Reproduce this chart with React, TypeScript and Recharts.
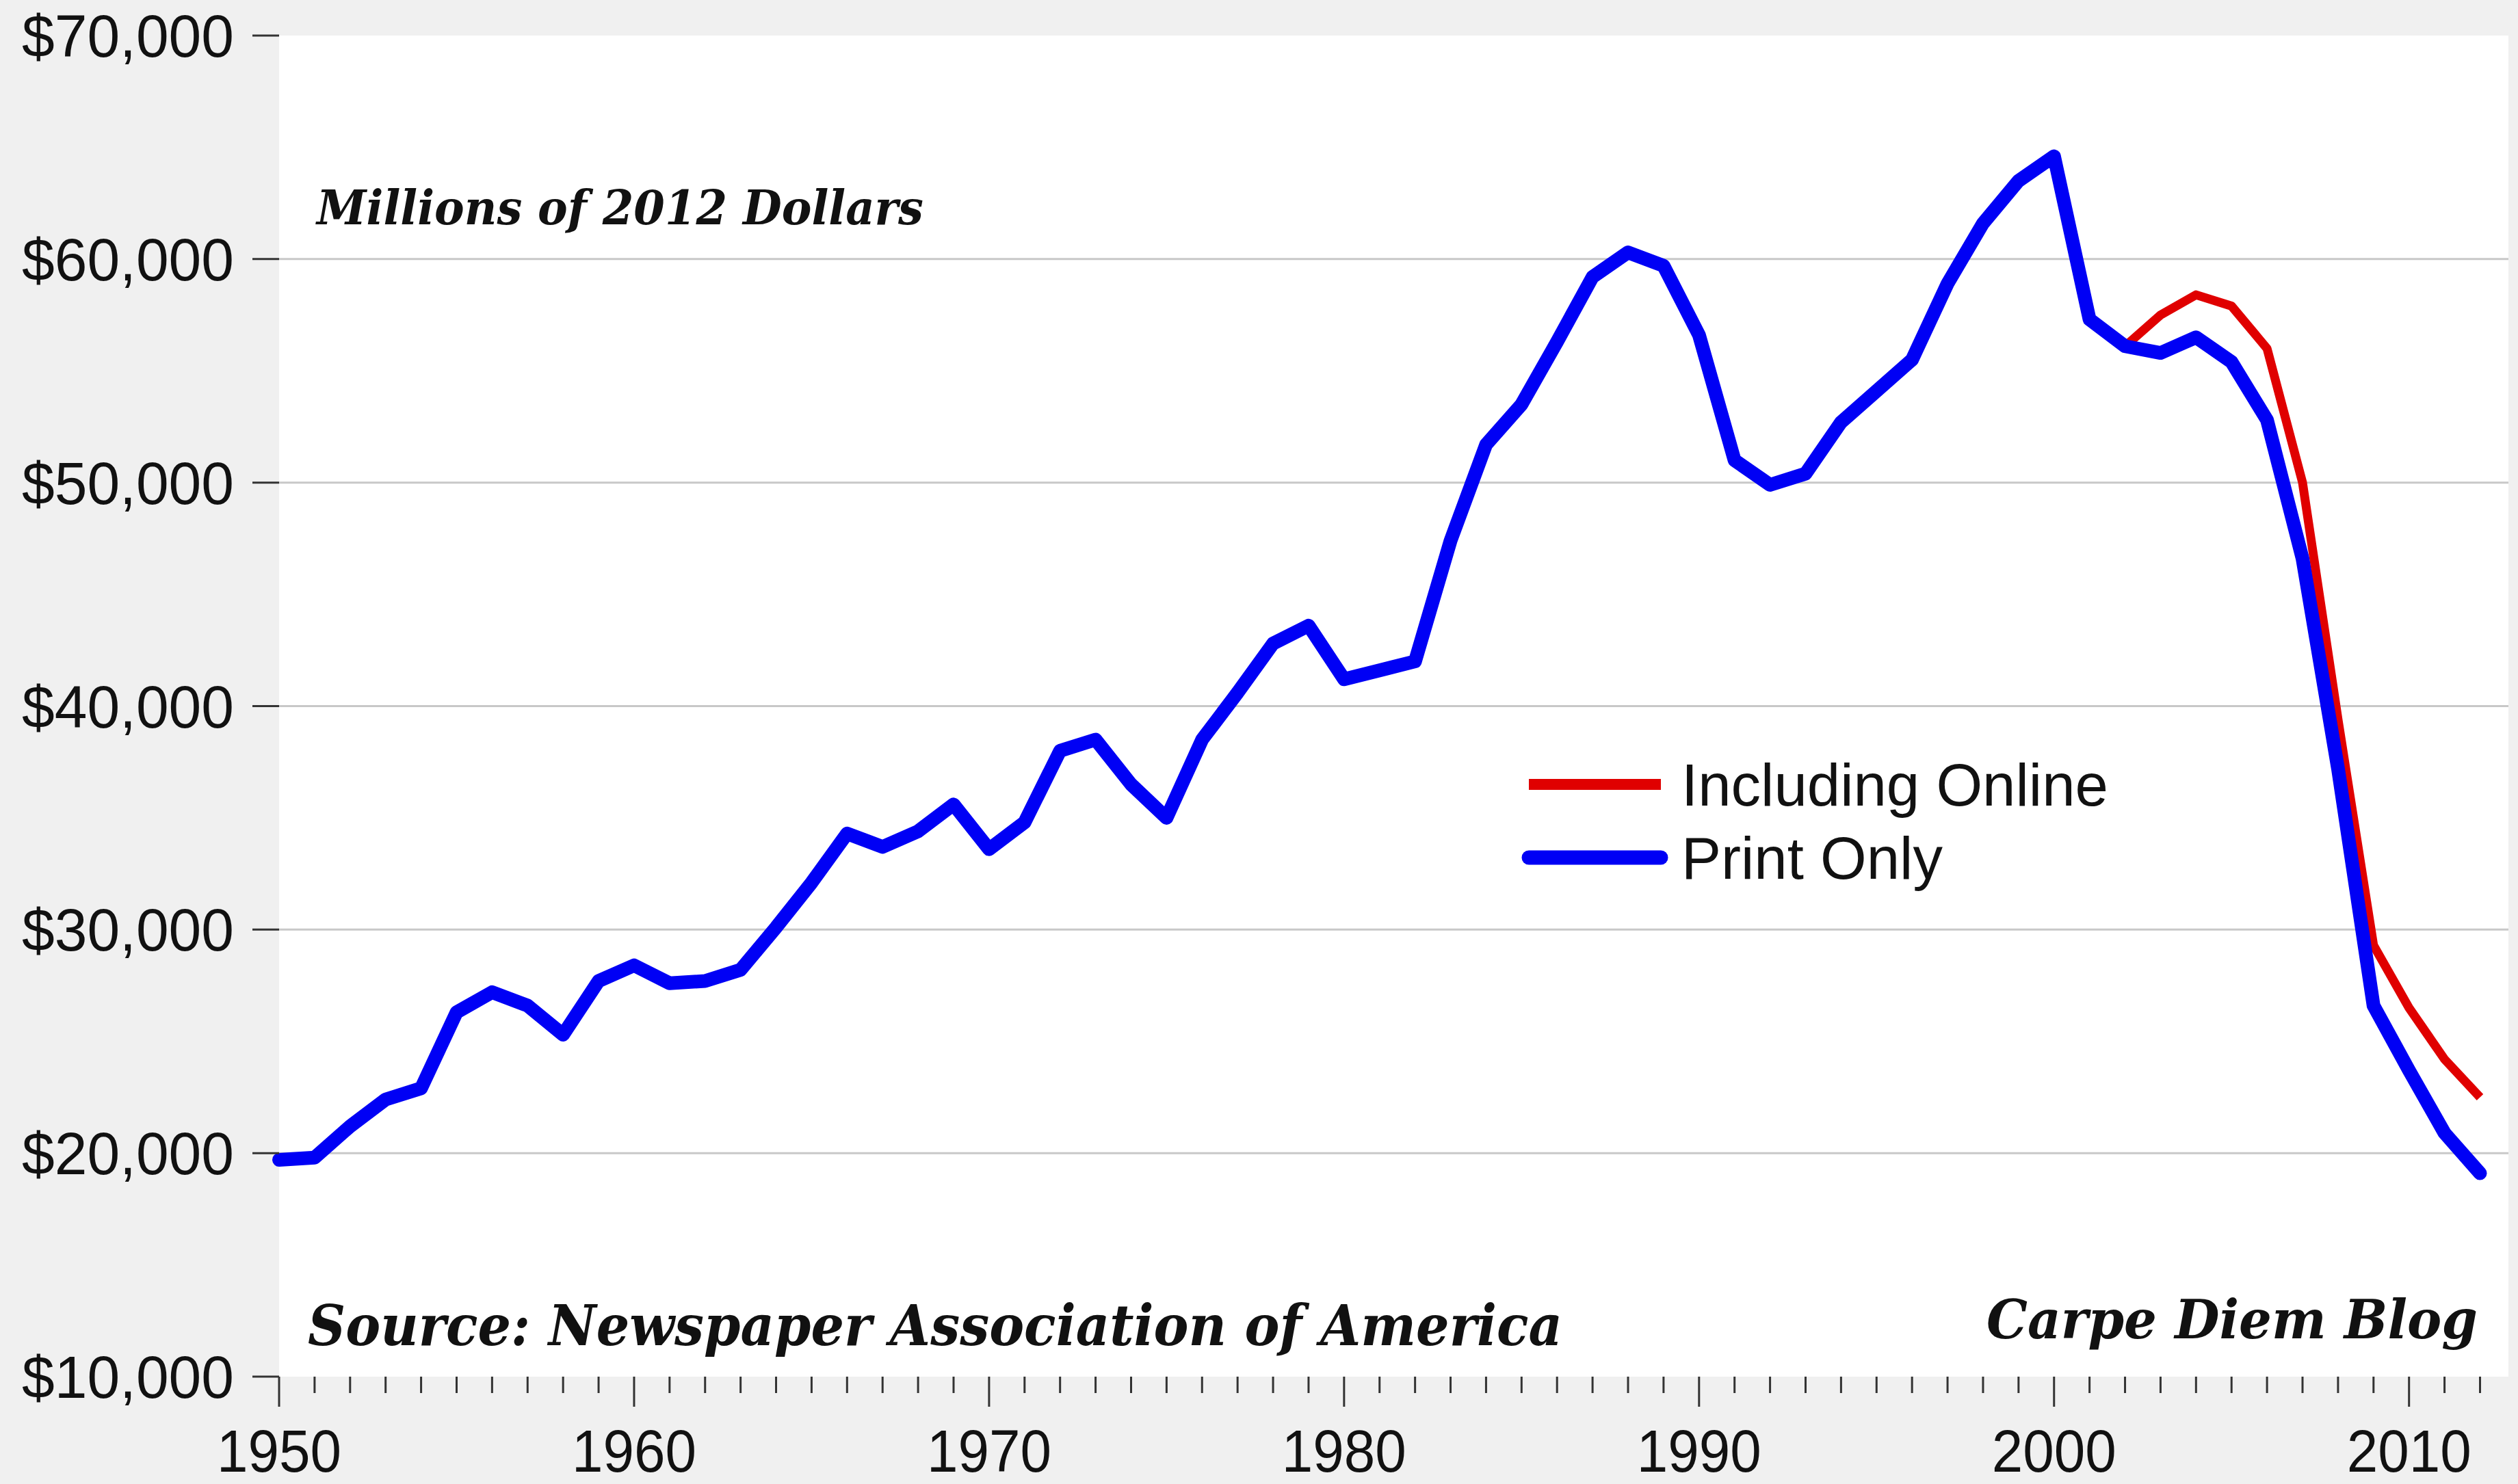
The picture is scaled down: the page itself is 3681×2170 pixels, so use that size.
import React from "react";
import { LineChart, Line, XAxis, YAxis, CartesianGrid, Legend } from "recharts";

const years = [
  1950, 1951, 1952, 1953, 1954, 1955, 1956, 1957, 1958, 1959,
  1960, 1961, 1962, 1963, 1964, 1965, 1966, 1967, 1968, 1969,
  1970, 1971, 1972, 1973, 1974, 1975, 1976, 1977, 1978, 1979,
  1980, 1981, 1982, 1983, 1984, 1985, 1986, 1987, 1988, 1989,
  1990, 1991, 1992, 1993, 1994, 1995, 1996, 1997, 1998, 1999,
  2000, 2001, 2002, 2003, 2004, 2005, 2006, 2007, 2008, 2009,
  2010, 2011, 2012,
];

const printOnly = [
  19700, 19800, 21200, 22400, 22900, 26300, 27200, 26600, 25300, 27700,
  28400, 27600, 27700, 28200, 30100, 32100, 34300, 33700, 34400, 35600,
  33600, 34800, 38000, 38500, 36500, 35000, 38500, 40600, 42800, 43600,
  41200, 41600, 42000, 47400, 51700, 53500, 56300, 59200, 60300, 59700,
  56600, 51000, 49900, 50400, 52700, 54100, 55500, 58900, 61600, 63500,
  64600, 57300, 56100, 55800, 56500, 55400, 52800, 46600, 37200, 26600,
  23700, 20900, 19100,
];

const onlineYears = [2002, 2003, 2004, 2005, 2006, 2007, 2008, 2009, 2010, 2011, 2012];
const includingOnline = [56100, 57500, 58400, 57900, 56000, 50000, 39400, 29300, 26500, 24200, 22500];

const yTicks = [10000, 20000, 30000, 40000, 50000, 60000, 70000];
const gridValues = [20000, 30000, 40000, 50000, 60000];
const xTicks = years;

const seriesNames = { online: "Including Online", print: "Print Only" };
const unitNote = "Millions of 2012 Dollars";
const sourceNote = "Source: Newspaper Association of America";
const blogNote = "Carpe Diem Blog";

const data = years.map((yr, i) => {
  const j = onlineYears.indexOf(yr);
  return { year: yr, print: printOnly[i], online: j >= 0 ? includingOnline[j] : null };
});

const SANS = "'Liberation Sans', Arial, Helvetica, sans-serif";
const SERIF = "'DejaVu Serif', Georgia, serif";

const XTick = (props: any) => {
  const { x, y, payload } = props;
  const v = payload.value;
  const major = v % 10 === 0;
  return (
    <g>
      <line x1={x} x2={x} y1={y} y2={y + (major ? 44 : 24)} stroke="#333" strokeWidth={3} />
      {major && (
        <text
          x={x}
          y={y + 139}
          textAnchor="middle"
          fontFamily={SANS}
          fontSize={88}
          textLength={182}
          lengthAdjust="spacingAndGlyphs"
          fill="#111"
        >
          {v}
        </text>
      )}
    </g>
  );
};

const YTick = (props: any) => {
  const { x, y, payload } = props;
  const label = "$" + Number(payload.value).toLocaleString("en-US");
  return (
    <text
      x={x - 27}
      y={y + 31}
      textAnchor="end"
      fontFamily={SANS}
      fontSize={88}
      textLength={310}
      lengthAdjust="spacingAndGlyphs"
      fill="#111"
    >
      {label}
    </text>
  );
};

const LegendContent = (props: any) => {
  const { payload } = props;
  return (
    <svg width={900} height={240} style={{ display: "block" }}>
      {(payload || []).map((entry: any, i: number) => {
        const cy = 67 + i * 107;
        return (
          <g key={i}>
            <line
              x1={15}
              x2={208}
              y1={cy}
              y2={cy}
              stroke={entry.color}
              strokeWidth={i === 0 ? 16 : 21}
              strokeLinecap={i === 0 ? "butt" : "round"}
            />
            <text x={238} y={cy + 31} fontFamily={SANS} fontSize={87} fill="#111">
              {entry.value}
            </text>
          </g>
        );
      })}
    </svg>
  );
};

export default function App() {
  return (
    <div
      style={{
        position: "absolute",
        left: 0,
        top: 0,
        width: 3681,
        height: 2170,
        background: "#f0f0f0",
        overflow: "hidden",
      }}
    >
      <LineChart
        width={3681}
        height={2170}
        data={data}
        margin={{ top: 52, right: 14, left: 0, bottom: 0 }}
      >
        <CartesianGrid
          vertical={false}
          horizontalValues={gridValues}
          stroke="#c8c8c8"
          strokeWidth={3}
          fill="#ffffff"
          fillOpacity={1}
        />
        <XAxis
          dataKey="year"
          type="number"
          domain={[1950, 2012.8]}
          ticks={xTicks}
          interval={0}
          axisLine={false}
          tickLine={false}
          tickSize={0}
          tickMargin={0}
          height={157}
          tick={<XTick />}
        />
        <YAxis
          type="number"
          domain={[10000, 70000]}
          ticks={yTicks}
          interval={0}
          width={408}
          axisLine={false}
          tickLine={{ stroke: "#333", strokeWidth: 3 }}
          tickSize={39}
          tickMargin={0}
          tick={<YTick />}
        />
        <Legend
          layout="horizontal"
          verticalAlign="middle"
          align="center"
          content={<LegendContent />}
          wrapperStyle={{ position: "absolute", left: 2220, top: 1080, width: 900, height: 240 }}
        />
        <Line
          type="linear"
          dataKey="online"
          name={seriesNames.online}
          stroke="#e00000"
          strokeWidth={13}
          strokeLinejoin="round"
          dot={false}
          activeDot={false}
          connectNulls={false}
          isAnimationActive={false}
        />
        <Line
          type="linear"
          dataKey="print"
          name={seriesNames.print}
          stroke="#0000f5"
          strokeWidth={20}
          strokeLinejoin="round"
          strokeLinecap="round"
          dot={false}
          activeDot={false}
          isAnimationActive={false}
        />
      </LineChart>
      <svg
        width={3681}
        height={2170}
        style={{ position: "absolute", left: 0, top: 0, pointerEvents: "none" }}
      >
        <text
          x={463}
          y={328}
          fontFamily={SERIF}
          fontWeight="bold"
          fontStyle="italic"
          fontSize={70}
          textLength={887}
          lengthAdjust="spacingAndGlyphs"
          fill="#111"
        >
          {unitNote}
        </text>
        <text
          x={450}
          y={1967}
          fontFamily={SERIF}
          fontWeight="bold"
          fontStyle="italic"
          fontSize={82}
          textLength={1834}
          lengthAdjust="spacingAndGlyphs"
          fill="#111"
        >
          {sourceNote}
        </text>
        <text
          x={2904}
          y={1957}
          fontFamily={SERIF}
          fontWeight="bold"
          fontStyle="italic"
          fontSize={78}
          textLength={718}
          lengthAdjust="spacingAndGlyphs"
          fill="#111"
        >
          {blogNote}
        </text>
      </svg>
    </div>
  );
}
